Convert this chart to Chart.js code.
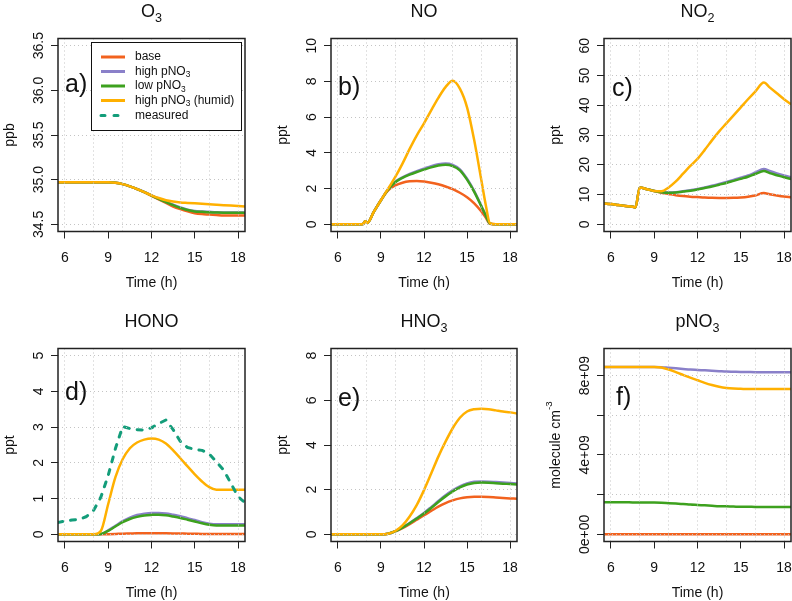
<!DOCTYPE html>
<html>
<head>
<meta charset="utf-8">
<script src="https://cdn.jsdelivr.net/npm/chart.js@4.4.1/dist/chart.umd.min.js"></script>
<style>
  body { margin: 0; background: #fff; width: 792px; height: 601px; position: relative; overflow: hidden; }
  canvas { position: absolute; }
</style>
</head>
<body>
<canvas id="pA" width="264" height="300" style="left:0;top:0"></canvas>
<canvas id="pB" width="264" height="300" style="left:264px;top:0"></canvas>
<canvas id="pC" width="264" height="300" style="left:528px;top:0"></canvas>
<canvas id="pD" width="264" height="301" style="left:0;top:300px"></canvas>
<canvas id="pE" width="264" height="301" style="left:264px;top:300px"></canvas>
<canvas id="pF" width="264" height="301" style="left:528px;top:300px"></canvas>
<script>
// ---- datos ----
const seriesNames = ['base', 'high pNO3', 'low pNO3', 'high pNO3 (humid)', 'measured'];
const seriesColors = ['#F2621E', '#8A80C9', '#3DA11E', '#FFB000', '#139D7A'];

const xTickLabels = [6, 9, 12, 15, 18];
const xGridHours = [6, 7, 8, 9, 10, 11, 12, 13, 14, 15, 16, 17, 18];

const hours = [5.5, 6, 6.5, 7, 7.5, 8, 8.5, 9, 9.5, 10, 10.5, 11, 11.5, 12, 12.5, 13, 13.5, 14, 14.5, 15, 15.5, 16, 16.5, 17, 17.5, 18, 18.5];

// a) O3 (ppb)
const o3Ticks = [34.5, 35.0, 35.5, 36.0, 36.5];
const o3Labels = ['34.5', '35.0', '35.5', '36.0', '36.5'];
const o3Base  = [34.97, 34.97, 34.97, 34.97, 34.97, 34.97, 34.97, 34.97, 34.965, 34.95, 34.925, 34.895, 34.86, 34.82, 34.78, 34.74, 34.70, 34.67, 34.645, 34.625, 34.615, 34.61, 34.605, 34.60, 34.60, 34.60, 34.60];
const o3High  = [34.97, 34.97, 34.97, 34.97, 34.97, 34.97, 34.97, 34.97, 34.965, 34.95, 34.925, 34.896, 34.862, 34.825, 34.789, 34.754, 34.72, 34.69, 34.665, 34.65, 34.644, 34.64, 34.636, 34.634, 34.634, 34.633, 34.632];
const o3Low   = [34.97, 34.97, 34.97, 34.97, 34.97, 34.97, 34.97, 34.97, 34.965, 34.95, 34.925, 34.895, 34.86, 34.822, 34.785, 34.75, 34.715, 34.685, 34.66, 34.645, 34.64, 34.635, 34.632, 34.63, 34.63, 34.63, 34.628];
const o3Humid = [34.97, 34.97, 34.97, 34.97, 34.97, 34.97, 34.97, 34.97, 34.965, 34.95, 34.925, 34.895, 34.86, 34.825, 34.795, 34.77, 34.755, 34.745, 34.74, 34.735, 34.73, 34.725, 34.72, 34.715, 34.71, 34.705, 34.70];

// b) NO (ppt)
const hoursNO = [5.5, 6, 6.5, 7, 7.5, 7.75, 7.9, 8.05, 8.5, 9, 9.5, 10, 10.5, 11, 11.5, 12, 12.5, 13, 13.5, 14, 14.5, 15, 15.5, 16, 16.3, 16.6, 17, 17.5, 18, 18.5];
const noTicks = [0, 2, 4, 6, 8, 10];
const noLabels = ['0', '2', '4', '6', '8', '10'];
const noBase  = [0, 0, 0, 0, 0, 0.02, 0.18, 0.08, 0.7, 1.35, 1.9, 2.18, 2.33, 2.41, 2.43, 2.4, 2.33, 2.24, 2.12, 1.97, 1.77, 1.52, 1.18, 0.72, 0.38, 0.03, 0, 0, 0, 0];
const noHigh  = [0, 0, 0, 0, 0, 0.02, 0.18, 0.08, 0.7, 1.35, 1.96, 2.38, 2.63, 2.82, 2.98, 3.12, 3.26, 3.36, 3.40, 3.33, 3.08, 2.55, 1.86, 1.03, 0.52, 0.04, 0, 0, 0, 0];
const noLow   = [0, 0, 0, 0, 0, 0.02, 0.18, 0.08, 0.7, 1.35, 1.95, 2.36, 2.6, 2.78, 2.93, 3.06, 3.19, 3.29, 3.33, 3.26, 3.02, 2.5, 1.82, 1.0, 0.5, 0.04, 0, 0, 0, 0];
const noHumid = [0, 0, 0, 0, 0, 0.02, 0.18, 0.08, 0.7, 1.35, 2.0, 2.65, 3.4, 4.22, 4.98, 5.65, 6.38, 7.08, 7.68, 8.04, 7.6, 6.55, 4.7, 2.45, 1.1, 0.05, 0, 0, 0, 0];

// c) NO2 (ppt)
const hoursNO2 = [5.5, 6, 6.5, 7, 7.5, 7.7, 8.0, 8.5, 9, 9.5, 10, 10.5, 11, 11.5, 12, 12.5, 13, 13.5, 14, 14.5, 15, 15.5, 16, 16.6, 17, 17.5, 18, 18.5];
const no2Ticks = [0, 10, 20, 30, 40, 50, 60];
const no2Labels = ['0', '10', '20', '30', '40', '50', '60'];
const no2Base  = [7.0, 6.8, 6.5, 6.2, 5.9, 5.7, 12.4, 11.8, 11.2, 10.6, 10.2, 9.8, 9.5, 9.3, 9.15, 9.0, 8.9, 8.85, 8.85, 8.9, 9.05, 9.3, 9.7, 10.5, 10.1, 9.7, 9.35, 9.1];
const no2High  = [7.0, 6.8, 6.5, 6.2, 5.9, 5.7, 12.4, 11.8, 11.2, 10.85, 10.7, 10.8, 11.1, 11.45, 11.85, 12.4, 12.95, 13.55, 14.2, 14.9, 15.65, 16.4, 17.4, 18.6, 17.9, 17.1, 16.4, 15.8];
const no2Low   = [7.0, 6.8, 6.5, 6.2, 5.9, 5.7, 12.4, 11.8, 11.2, 10.8, 10.6, 10.7, 11.0, 11.3, 11.7, 12.2, 12.7, 13.3, 13.9, 14.6, 15.3, 16.0, 16.9, 17.9, 17.2, 16.5, 15.8, 15.2];
const no2Humid = [7.0, 6.8, 6.5, 6.2, 5.9, 5.7, 12.4, 11.8, 11.2, 11.1, 12.4, 14.4, 17.0, 19.6, 22.0, 25.0, 28.2, 31.2, 33.9, 36.6, 39.3, 42.0, 44.6, 47.6, 46.0, 44.0, 42.0, 40.3];

// d) HONO (ppt)
const honoTicks = [0, 1, 2, 3, 4, 5];
const honoLabels = ['0', '1', '2', '3', '4', '5'];
const honoBase  = [0, 0, 0, 0, 0, 0, 0, 0.005, 0.012, 0.02, 0.025, 0.03, 0.032, 0.033, 0.032, 0.03, 0.027, 0.023, 0.02, 0.016, 0.012, 0.01, 0.01, 0.01, 0.01, 0.01, 0.01];
const honoHigh  = [0, 0, 0, 0, 0, 0, 0.01, 0.11, 0.24, 0.37, 0.47, 0.54, 0.58, 0.6, 0.6, 0.585, 0.55, 0.51, 0.45, 0.4, 0.34, 0.3, 0.28, 0.28, 0.28, 0.28, 0.28];
const honoLow   = [0, 0, 0, 0, 0, 0, 0.01, 0.1, 0.22, 0.34, 0.43, 0.49, 0.53, 0.545, 0.55, 0.535, 0.5, 0.46, 0.41, 0.36, 0.31, 0.27, 0.25, 0.25, 0.25, 0.25, 0.25];
const honoHumid = [0, 0, 0, 0, 0, 0, 0.1, 0.85, 1.6, 2.1, 2.41, 2.57, 2.65, 2.68, 2.65, 2.54, 2.35, 2.13, 1.9, 1.68, 1.48, 1.32, 1.25, 1.25, 1.25, 1.25, 1.25];
const honoMeas  = [0.33, 0.37, 0.4, 0.42, 0.5, 0.68, 1.05, 1.65, 2.4, 3.02, 2.96, 2.93, 2.92, 2.98, 3.1, 3.2, 2.93, 2.6, 2.43, 2.38, 2.35, 2.25, 2.03, 1.8, 1.43, 1.05, 0.88];

// e) HNO3 (ppt)
const hno3Ticks = [0, 2, 4, 6, 8];
const hno3Labels = ['0', '2', '4', '6', '8'];
const hno3Base  = [0, 0, 0, 0, 0, 0, 0, 0, 0.03, 0.13, 0.28, 0.46, 0.66, 0.86, 1.05, 1.24, 1.4, 1.52, 1.61, 1.66, 1.68, 1.68, 1.67, 1.65, 1.63, 1.61, 1.59];
const hno3High  = [0, 0, 0, 0, 0, 0, 0, 0, 0.03, 0.14, 0.31, 0.51, 0.73, 0.96, 1.22, 1.49, 1.75, 1.97, 2.15, 2.28, 2.35, 2.37, 2.36, 2.34, 2.32, 2.3, 2.28];
const hno3Low   = [0, 0, 0, 0, 0, 0, 0, 0, 0.03, 0.14, 0.3, 0.5, 0.71, 0.93, 1.18, 1.45, 1.7, 1.92, 2.1, 2.23, 2.3, 2.32, 2.31, 2.29, 2.27, 2.25, 2.23];
const hno3Humid = [0, 0, 0, 0, 0, 0, 0, 0, 0.03, 0.15, 0.4, 0.8, 1.32, 1.98, 2.72, 3.48, 4.15, 4.75, 5.22, 5.5, 5.6, 5.62, 5.6, 5.55, 5.5, 5.46, 5.41];

// f) pNO3 (molecule cm-3)
const pno3Ticks = [0, 2e9, 4e9, 6e9, 8e9];
const pno3Labels = ['0e+00', '', '4e+09', '', '8e+09'];
const pno3Base  = [0, 0, 0, 0, 0, 0, 0, 0, 0, 0, 0, 0, 0, 0, 0, 0, 0, 0, 0, 0, 0, 0, 0, 0, 0, 0, 0];
const pno3High  = [8.43e9, 8.43e9, 8.43e9, 8.43e9, 8.43e9, 8.43e9, 8.43e9, 8.43e9, 8.42e9, 8.39e9, 8.36e9, 8.33e9, 8.30e9, 8.28e9, 8.26e9, 8.24e9, 8.22e9, 8.20e9, 8.19e9, 8.18e9, 8.175e9, 8.17e9, 8.17e9, 8.17e9, 8.17e9, 8.17e9, 8.17e9];
const pno3Low   = [1.62e9, 1.62e9, 1.62e9, 1.62e9, 1.61e9, 1.61e9, 1.6e9, 1.6e9, 1.59e9, 1.57e9, 1.55e9, 1.53e9, 1.5e9, 1.48e9, 1.46e9, 1.44e9, 1.42e9, 1.41e9, 1.4e9, 1.39e9, 1.39e9, 1.38e9, 1.38e9, 1.38e9, 1.38e9, 1.38e9, 1.38e9];
const pno3Humid = [8.43e9, 8.43e9, 8.43e9, 8.43e9, 8.43e9, 8.43e9, 8.43e9, 8.43e9, 8.40e9, 8.30e9, 8.17e9, 8.03e9, 7.89e9, 7.76e9, 7.63e9, 7.52e9, 7.43e9, 7.37e9, 7.34e9, 7.33e9, 7.32e9, 7.32e9, 7.32e9, 7.32e9, 7.32e9, 7.32e9, 7.32e9];

// ---- dibujo ----
const FONT = '"Liberation Sans", Arial, sans-serif';
const GRID = '#c4c4c4';
const INK = '#111';

function setFont(ctx, size) { ctx.font = size + 'px ' + FONT; }

// texto con subindices / superindices (estilo plotmath)
function partsWidth(ctx, parts, size) {
  let w = 0;
  parts.forEach(p => { setFont(ctx, p.sub || p.sup ? size * 0.7 : size); w += ctx.measureText(p.t).width; });
  return w;
}
function drawParts(ctx, parts, x, y, size, align) {
  let cx = align === 'center' ? x - partsWidth(ctx, parts, size) / 2 : x;
  ctx.textAlign = 'left';
  parts.forEach(p => {
    setFont(ctx, p.sub || p.sup ? size * 0.7 : size);
    const dy = p.sub ? size * 0.3 : (p.sup ? -size * 0.45 : 0);
    ctx.fillText(p.t, cx, y + dy);
    cx += ctx.measureText(p.t).width;
  });
}

const legendParts = [
  [{t: 'base'}],
  [{t: 'high pNO'}, {t: '3', sub: true}],
  [{t: 'low pNO'}, {t: '3', sub: true}],
  [{t: 'high pNO'}, {t: '3', sub: true}, {t: ' (humid)'}],
  [{t: 'measured'}]
];

function drawLegend(ctx, a) {
  const lx = a.left + 33, ly = a.top + 3.5;
  ctx.fillStyle = '#fff';
  ctx.fillRect(lx, ly, 150, 88);
  ctx.strokeStyle = '#111'; ctx.lineWidth = 1;
  ctx.strokeRect(lx + 0.5, ly + 0.5, 150, 88);
  const rows = [15, 29.5, 44, 58.5, 73.5];
  rows.forEach((ry, i) => {
    const yy = ly + ry;
    ctx.save();
    ctx.strokeStyle = seriesColors[i];
    ctx.lineWidth = 3;
    ctx.lineCap = i === 4 ? 'round' : 'butt';
    if (i === 4) ctx.setLineDash([4, 9]);
    ctx.beginPath(); ctx.moveTo(lx + 10, yy); ctx.lineTo(lx + 34, yy); ctx.stroke();
    ctx.restore();
    ctx.fillStyle = INK;
    ctx.textBaseline = 'middle';
    drawParts(ctx, legendParts[i], lx + 44, yy, 12, 'left');
  });
}

const rDecor = {
  id: 'rDecor',
  afterDraw(chart, args, o) {
    const {ctx, chartArea: a, scales: {x, y}} = chart;
    ctx.save();
    ctx.strokeStyle = '#222'; ctx.lineWidth = 1.5;
    ctx.strokeRect(a.left, a.top, a.right - a.left, a.bottom - a.top);
    ctx.fillStyle = INK;
    // etiquetas eje x
    setFont(ctx, 14); ctx.textAlign = 'center'; ctx.textBaseline = 'alphabetic';
    xTickLabels.forEach(h => ctx.fillText(String(h), x.getPixelForValue(h), a.bottom + 30));
    // etiquetas eje y (giradas, como en R)
    o.yTicks.forEach((v, i) => {
      if (!o.yLabels[i]) return;
      ctx.save();
      ctx.translate(a.left - 15, y.getPixelForValue(v));
      ctx.rotate(-Math.PI / 2);
      ctx.textAlign = 'center';
      ctx.fillText(o.yLabels[i], 0, 0);
      ctx.restore();
    });
    setFont(ctx, 14);
    ctx.fillText('Time (h)', (a.left + a.right) / 2, a.bottom + 55);
    ctx.save();
    ctx.translate(a.left - 48, (a.top + a.bottom) / 2);
    ctx.rotate(-Math.PI / 2);
    ctx.textBaseline = 'middle';
    drawParts(ctx, o.yTitle, 0, 0, 14, 'center');
    ctx.restore();
    ctx.textBaseline = 'alphabetic';
    drawParts(ctx, o.title, (a.left + a.right) / 2, a.top - 22, 18, 'center');
    setFont(ctx, 25); ctx.textAlign = 'left'; ctx.textBaseline = 'middle';
    ctx.fillText(o.letter, a.left + o.letterDx, a.top + o.letterDy);
    if (o.legend) drawLegend(ctx, a);
    ctx.restore();
  }
};

function mkData(xs, ys) { return xs.map((h, i) => ({x: h, y: ys[i]})); }

function makePanel(id, xs, vals, meas, yMin, yMax, decor) {
  // orden de dibujo de R: el ultimo queda encima
  const ds = [];
  if (meas) ds.push({data: mkData(hours, meas), borderColor: seriesColors[4], borderWidth: 3, borderDash: [5, 8], borderCapStyle: 'round', tension: 0});
  [3, 2, 1, 0].forEach(k => ds.push({data: mkData(xs, vals[k]), borderColor: seriesColors[k], borderWidth: 2.5, cubicInterpolationMode: 'monotone'}));
  new Chart(document.getElementById(id), {
    type: 'line',
    data: {datasets: ds},
    options: {
      responsive: false, animation: false, devicePixelRatio: 1,
      layout: {padding: decor.pad},
      elements: {point: {radius: 0}, line: {borderJoinStyle: 'round', fill: false}},
      plugins: {legend: {display: false}, tooltip: {enabled: false}, rDecor: decor},
      scales: {
        x: {
          type: 'linear', min: 5.52, max: 18.48,
          afterBuildTicks: s => { s.ticks = xGridHours.map(v => ({value: v})); },
          afterFit: s => { s.height = 0; },
          ticks: {display: false},
          border: {display: false, dash: [1, 3]},
          grid: {
            z: 1, lineWidth: 1, tickLength: 7, tickWidth: 1,
            color: c => (c.tick && c.tick.value % 2 === 0) ? GRID : 'rgba(0,0,0,0)',
            tickColor: c => (c.tick && c.tick.value % 3 === 0) ? '#222' : 'rgba(0,0,0,0)'
          }
        },
        y: {
          type: 'linear', min: yMin, max: yMax,
          afterBuildTicks: s => { s.ticks = decor.yTicks.map(v => ({value: v})); },
          afterFit: s => { s.width = 0; },
          ticks: {display: false},
          border: {display: false, dash: [1, 3]},
          grid: {z: 1, lineWidth: 1, tickLength: 7, tickWidth: 1, color: GRID, tickColor: '#222'}
        }
      }
    },
    plugins: [rDecor]
  });
}

const padTop = {top: 38.5, bottom: 68.5};
const padBot = {top: 48.5, bottom: 59.5};

makePanel('pA', hours, [o3Base, o3High, o3Low, o3Humid], null, 34.42, 36.58, {
  pad: {left: 58, right: 19, ...padTop}, yTicks: o3Ticks, yLabels: o3Labels,
  title: [{t: 'O'}, {t: '3', sub: true}], yTitle: [{t: 'ppb'}], letter: 'a)', letterDx: 7, letterDy: 47, legend: true
});
makePanel('pB', hoursNO, [noBase, noHigh, noLow, noHumid], null, -0.4, 10.4, {
  pad: {left: 67, right: 11, ...padTop}, yTicks: noTicks, yLabels: noLabels,
  title: [{t: 'NO'}], yTitle: [{t: 'ppt'}], letter: 'b)', letterDx: 7, letterDy: 50
});
makePanel('pC', hoursNO2, [no2Base, no2High, no2Low, no2Humid], null, -2.4, 62.4, {
  pad: {left: 76, right: 1, ...padTop}, yTicks: no2Ticks, yLabels: no2Labels,
  title: [{t: 'NO'}, {t: '2', sub: true}], yTitle: [{t: 'ppt'}], letter: 'c)', letterDx: 8, letterDy: 51
});
makePanel('pD', hours, [honoBase, honoHigh, honoLow, honoHumid], honoMeas, -0.2, 5.2, {
  pad: {left: 58, right: 19, ...padBot}, yTicks: honoTicks, yLabels: honoLabels,
  title: [{t: 'HONO'}], yTitle: [{t: 'ppt'}], letter: 'd)', letterDx: 7, letterDy: 45
});
makePanel('pE', hours, [hno3Base, hno3High, hno3Low, hno3Humid], null, -0.32, 8.32, {
  pad: {left: 67, right: 11, ...padBot}, yTicks: hno3Ticks, yLabels: hno3Labels,
  title: [{t: 'HNO'}, {t: '3', sub: true}], yTitle: [{t: 'ppt'}], letter: 'e)', letterDx: 7, letterDy: 51
});
makePanel('pF', hours, [pno3Base, pno3High, pno3Low, pno3Humid], null, -0.36e9, 9.36e9, {
  pad: {left: 76, right: 1, ...padBot}, yTicks: pno3Ticks, yLabels: pno3Labels,
  title: [{t: 'pNO'}, {t: '3', sub: true}], yTitle: [{t: 'molecule cm'}, {t: '-3', sup: true}], letter: 'f)', letterDx: 12, letterDy: 50
});
</script>
</body>
</html>
